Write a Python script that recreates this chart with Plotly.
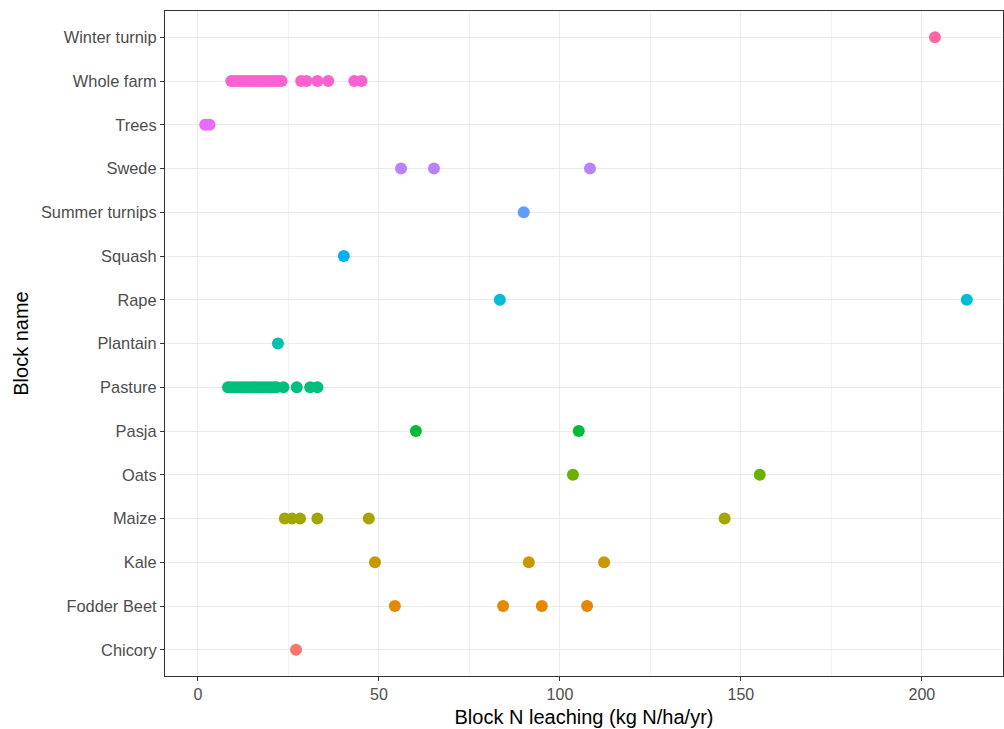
import plotly.graph_objects as go

categories = ["Chicory", "Fodder Beet", "Kale", "Maize", "Oats", "Pasja", "Pasture",
              "Plantain", "Rape", "Squash", "Summer turnips", "Swede", "Trees",
              "Whole farm", "Winter turnip"]

values = {
    "Chicory": [27.1],
    "Fodder Beet": [54.4, 84.3, 95.0, 107.5],
    "Kale": [48.9, 91.4, 112.2],
    "Maize": [24, 26, 28.2, 33, 47.2, 145.5],
    "Oats": [103.6, 155.2],
    "Pasja": [60.2, 105.2],
    "Pasture": [8.3, 9, 10, 11, 12, 13, 14, 15, 16, 17, 18, 19, 20, 21, 21.7, 23.6, 27.3, 31, 33],
    "Plantain": [22.1],
    "Rape": [83.4, 212.4],
    "Squash": [40.3],
    "Summer turnips": [90.0],
    "Swede": [56.1, 65.2, 108.3],
    "Trees": [2.0, 3.2],
    "Whole farm": [9.2, 10, 11, 12, 13, 14, 15, 16, 17, 18, 19, 20, 21, 22, 23.1, 28.5, 30, 33, 36, 43.2, 45.2],
    "Winter turnip": [203.6],
}

colors = ["#F8766D", "#E58700", "#C99800", "#A3A500", "#6BB100", "#00BA38", "#00BF7D",
          "#00C0AF", "#00BCD8", "#00B0F6", "#619CFF", "#B983FF", "#E76BF3", "#FD61D1", "#FF67A4"]

x_ticks = [0, 50, 100, 150, 200]

fig = go.Figure()
for cat, col in zip(categories, colors):
    xs = values[cat]
    fig.add_trace(go.Scatter(
        x=xs, y=[cat] * len(xs), mode="markers",
        marker=dict(color=col, size=12, line=dict(width=0)),
        showlegend=False, hoverinfo="x+y"))

fig.update_layout(
    width=1004, height=729,
    margin=dict(l=165, r=1, t=11, b=53),
    plot_bgcolor="white", paper_bgcolor="white",
    font=dict(family="Liberation Sans, Arial, sans-serif"),
)
fig.update_xaxes(
    range=[-9.1, 222.4], tickvals=x_ticks, ticktext=[str(v) for v in x_ticks],
    showgrid=True, gridcolor="#EBEBEB", gridwidth=1.1,
    minor=dict(dtick=25, tick0=0, showgrid=True, gridcolor="#F2F2F2", gridwidth=0.6),
    zeroline=False, showline=True, linecolor="#333333", linewidth=1.2, mirror=True,
    ticks="outside", ticklen=4, tickcolor="#333333", tickwidth=1,
    tickfont=dict(size=16, color="#4D4D4D"),
    title=dict(text="Block N leaching (kg N/ha/yr)", font=dict(size=20, color="black"), standoff=7),
)
fig.update_yaxes(
    type="category", categoryorder="array", categoryarray=categories,
    range=[-0.6, 14.6],
    showgrid=True, gridcolor="#EBEBEB", gridwidth=1.1,
    zeroline=False, showline=True, linecolor="#333333", linewidth=1.2, mirror=True,
    ticks="outside", ticklen=4, tickcolor="#333333", tickwidth=1,
    tickfont=dict(size=16.4, color="#4D4D4D"),
    title=dict(text="Block name", font=dict(size=20, color="black"), standoff=6),
)

fig.write_html("out.html")
